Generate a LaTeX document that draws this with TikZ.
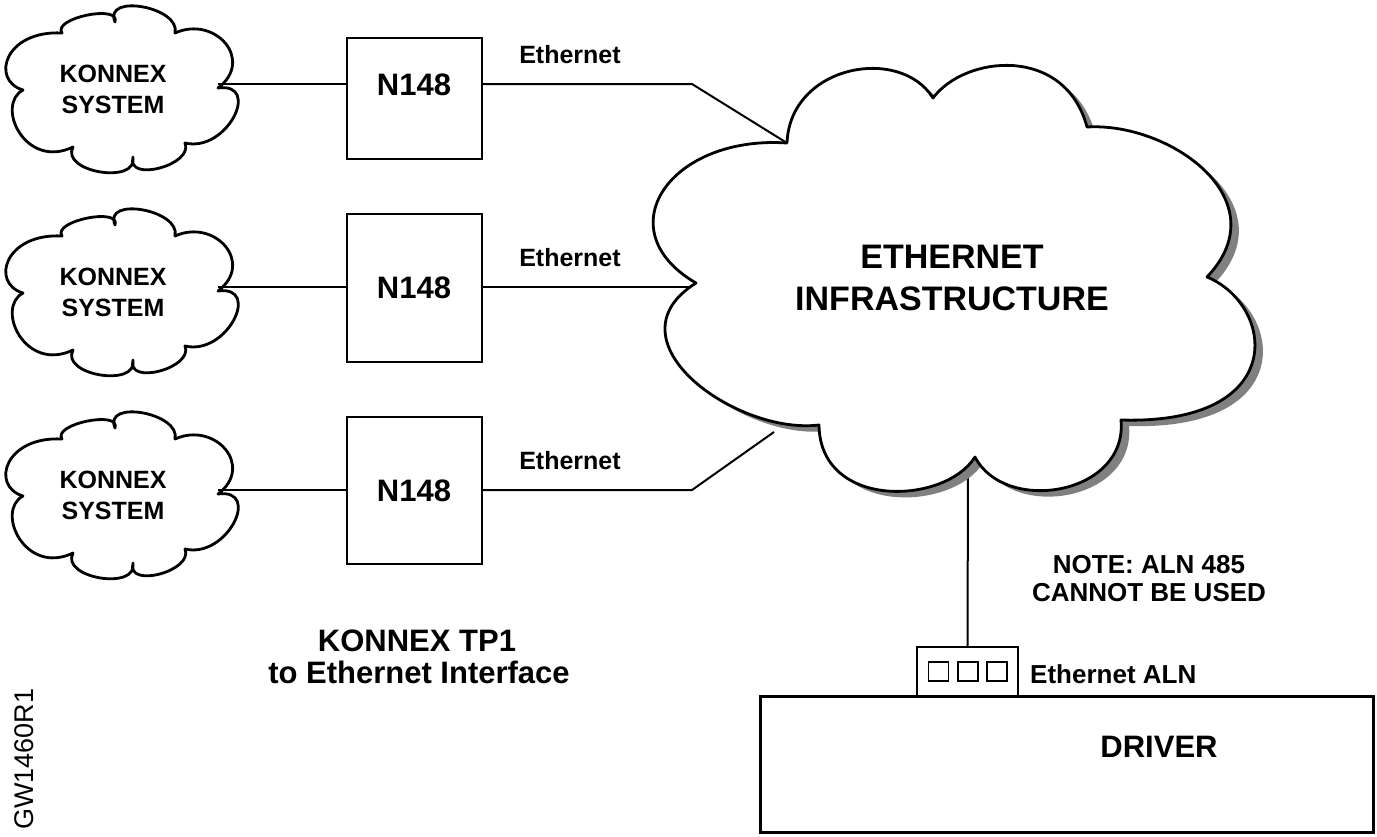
\documentclass[tikz,border=0pt]{standalone}
\usepackage{fontspec}
\setmainfont{Liberation Sans}
\begin{document}
\begin{tikzpicture}[x=1pt,y=-1pt,
  conn/.style={draw=black, line width=2pt},
  boxst/.style={draw=black, line width=2.3pt, fill=white, rectangle, inner sep=0pt},
  cloudst/.style={draw=black, line width=2.8pt, fill=white, line join=round},
  shadowst/.style={fill=black!50},
  tb/.style={font=\fontsize{#1}{#1}\selectfont\bfseries, inner sep=0pt, anchor=base, text=black},
  tr/.style={font=\fontsize{#1}{#1}\selectfont, inner sep=0pt, anchor=base, text=black}
]
\useasboundingbox (0,0) rectangle (1377,836);
\fill[white] (0,0) rectangle (1377,836);

\def\smallcloud{(62,33) .. controls (52,18) and (121,4) .. (115,22)
 .. controls (103,-7) and (181,7) .. (175,33)
 .. controls (215,15) and (255,60) .. (218,88)
 .. controls (262,82) and (227,153) .. (185,143)
 .. controls (194,165) and (126,183) .. (133,157)
 .. controls (138,185) and (60,172) .. (73,147)
 .. controls (25,170) and (-5,105) .. (23,90)
 .. controls (-10,80) and (5,30) .. (62,33) -- cycle}

\def\bigcloud{(787,143) .. controls (790,65) and (900,45) .. (933,98)
 .. controls (965,55) and (1065,45) .. (1087,127)
 .. controls (1170,122) and (1280,200) .. (1207,277)
 .. controls (1275,305) and (1290,425) .. (1121,420)
 .. controls (1128,495) and (1005,515) .. (975,457)
 .. controls (945,505) and (820,510) .. (819,425)
 .. controls (735,435) and (605,340) .. (696,283)
 .. controls (605,230) and (670,135) .. (787,143) -- cycle}

% small clouds
\foreach \dy/\i in {0/1,203/2,406/3}{
  \begin{scope}[shift={(0,\dy)}]
    \draw[cloudst] \smallcloud;
  \end{scope}
}
\node[tb=25] (ka1) at (113,82) {KONNEX};
\node[tb=25] (kb1) at (113,113) {SYSTEM};
\node[tb=25] (ka2) at (113,285) {KONNEX};
\node[tb=25] (kb2) at (113,316) {SYSTEM};
\node[tb=25] (ka3) at (113,488) {KONNEX};
\node[tb=25] (kb3) at (113,519) {SYSTEM};

% junction coordinates
\coordinate (k1) at (218,84);
\coordinate (k2) at (218,287);
\coordinate (k3) at (218,490);
\coordinate (e1) at (692,84);
\coordinate (c1) at (787,143);
\coordinate (c2) at (697,287);
\coordinate (e3) at (692,490);
\coordinate (c3) at (774,432);
\coordinate (c4) at (968,470);

% N148 boxes
\node[boxst, minimum width=135pt, minimum height=121pt] (b1) at (414.5,98.5) {};
\node[boxst, minimum width=135pt, minimum height=148pt] (b2) at (414.5,288) {};
\node[boxst, minimum width=135pt, minimum height=147pt] (b3) at (414.5,490.5) {};
\node[tb=31] (n1) at (414,95) {N148};
\node[tb=31] (n2) at (414,298) {N148};
\node[tb=31] (n3) at (414,501) {N148};

% ALN box and driver
\node[draw=black, line width=3pt, rectangle, minimum width=613pt, minimum height=136pt, inner sep=0pt] (drv) at (1066.5,764) {};
\node[boxst, minimum width=101pt, minimum height=49pt] (aln) at (967.5,671.5) {};
\node[draw=black, line width=1.8pt, minimum width=20pt, minimum height=19pt, inner sep=0pt] (sq1) at (938.5,671.5) {};
\node[draw=black, line width=1.8pt, minimum width=20pt, minimum height=19pt, inner sep=0pt] (sq2) at (968,671.5) {};
\node[draw=black, line width=1.8pt, minimum width=20pt, minimum height=19pt, inner sep=0pt] (sq3) at (997,671.5) {};

% connectors
\draw[conn] (k1) -- (b1.west |- k1);
\draw[conn] (k2) -- (b2.west |- k2);
\draw[conn] (k3) -- (b3.west |- k3);
\draw[conn] (b1.east |- e1) -- (e1) -- (c1);
\draw[conn] (b2.east |- c2) -- (c2);
\draw[conn] (b3.east |- e3) -- (e3) -- (c3);
\draw[conn] (c4) -- (aln.north);

% big cloud with shadow
\begin{scope}[shift={(8,6)}]
  \fill[shadowst] \bigcloud;
\end{scope}
\draw[cloudst] \bigcloud;

% labels
\node[tb=25] (l1) at (570,63) {Ethernet};
\node[tb=25] (l2) at (570,266) {Ethernet};
\node[tb=25] (l3) at (570,469) {Ethernet};
\node[tb=34] (et) at (952,268) {ETHERNET};
\node[tb=34] (inf) at (952,310) {INFRASTRUCTURE};
\node[tb=31] (tp1) at (417,651) {KONNEX TP1};
\node[tb=31] (tp2) at (419,683) {to Ethernet Interface};
\node[tr=27, rotate=90] (gw) at (34,759) {GW1460R1};
\node[tb=26] (nt1) at (1149,573) {NOTE: ALN 485};
\node[tb=26] (nt2) at (1149,601) {CANNOT BE USED};
\node[tb=26, anchor=base west] (ea) at (1030,683) {Ethernet ALN};
\node[tb=31] (dr) at (1159,757) {DRIVER};
\end{tikzpicture}
\end{document}
